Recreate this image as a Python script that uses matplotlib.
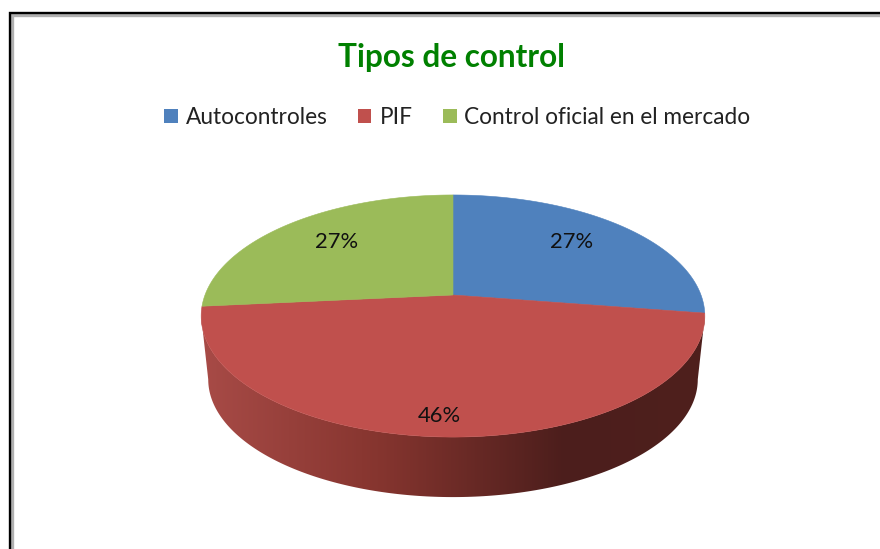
import numpy as np
import matplotlib
matplotlib.use("Agg")
import matplotlib.pyplot as plt
from matplotlib.patches import Polygon, Patch
from matplotlib.colors import LinearSegmentedColormap

title = "Tipos de control"
categories = ["Autocontroles", "PIF", "Control oficial en el mercado"]
values = [27.4, 46.1, 26.5]
labels = ["27%", "46%", "27%"]
colors = ["#4F81BD", "#C0504D", "#9BBB59"]

plt.rcParams["font.family"] = ["Lato", "DejaVu Sans"]
fig = plt.figure(figsize=(8.8, 5.49), dpi=100, facecolor="white")
ax = fig.add_axes([0, 0, 1, 1])
ax.set_xlim(0, 880)
ax.set_ylim(549, 0)
ax.axis("off")

# frame
ax.plot([12, 12, 880], [549, 14.5, 14.5], color="#B0B0B0", lw=2.4, solid_joinstyle="miter", zorder=1)
ax.plot([10, 10, 880], [549, 13, 13], color="black", lw=1.7, solid_joinstyle="miter", zorder=2)

# perspective projection of the pie disc
cx, cy = 453, 295
k, a, c = 0.1736, 117.4, 248


def project(theta, r=1.0, depth=0.0, scale=1.0):
    u, v = r * np.cos(theta), r * np.sin(theta)
    w = 1 + k * v
    return cx + scale * c * u / w, cy + depth - scale * a * v / w


def outline(t0, t1, depth=0.0, scale=1.0, n=200):
    x, y = project(np.linspace(t0, t1, n), depth=depth, scale=scale)
    return np.column_stack([x, y])


# side wall with horizontal shading
wide = np.arcsin(k)
t_right, t_left = -wide, -np.pi + wide
bottom = outline(t_right, t_left, depth=64, scale=0.972)
top = outline(t_left, t_right)
side = Polygon(np.vstack([bottom, top]), closed=True, fc="none", ec="none",
               transform=ax.transData)
ax.add_patch(side)
cmap = LinearSegmentedColormap.from_list(
    "side", [(0, "#A84B47"), (0.35, "#86352F"), (0.72, "#4C1E1C"), (1, "#4F201D")])
img = ax.imshow(np.linspace(0, 1, 256)[None, :], cmap=cmap, aspect="auto",
                extent=[200, 706, 510, 300], zorder=3)
img.set_clip_path(side)
ax.set_xlim(0, 880)
ax.set_ylim(549, 0)

# top face
start = np.pi / 2
fr = np.array(values) / sum(values)
for frac, col in zip(fr, colors):
    end = start - 2 * np.pi * frac
    pts = np.vstack([[cx, cy], outline(start, end)])
    ax.add_patch(Polygon(pts, closed=True, fc=col, ec=col, lw=0.4, zorder=4))
    start = end

# value labels
for lab, (x, y) in zip(labels, [(571.5, 242), (439.5, 416), (336.5, 242)]):
    ax.text(x, y, lab, ha="center", va="center", fontsize=15.8, color="#111111", zorder=5)

ax.text(451.5, 57.5, title, ha="center", va="center", fontsize=22.7, fontweight="bold", color="#008000")

handles = [Patch(fc=col, ec="none") for col in colors]
fig.legend(handles, categories, ncol=3, loc="center", bbox_to_anchor=(457.5 / 880, 1 - 117.5 / 549),
           frameon=False, fontsize=16.3, handlelength=0.58, handleheight=0.58,
           handletextpad=0.35, columnspacing=1.37, labelcolor="#222222")

fig.savefig("out.png", dpi=100)
